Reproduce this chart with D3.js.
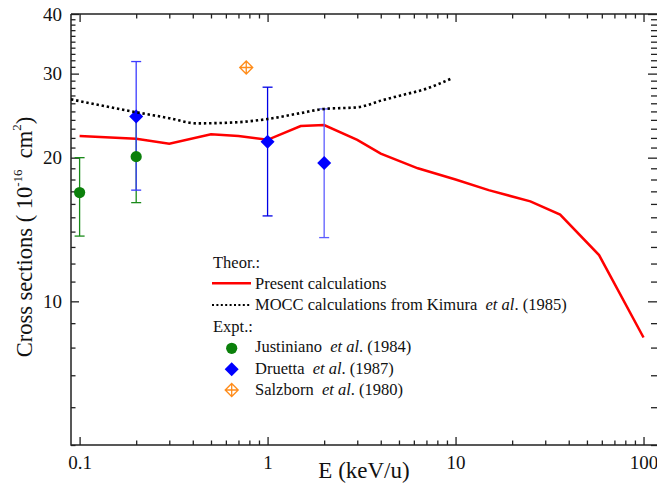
<!DOCTYPE html>
<html>
<head>
<meta charset="utf-8">
<script src="https://cdn.jsdelivr.net/npm/d3@7"></script>
<style>
body { margin: 0; background: #fff; }
text { font-family: "Liberation Serif", "Times New Roman", serif; fill: #111; }
.legend text { white-space: pre; }
</style>
</head>
<body>
<div id="chart"></div>
<script>
const WIDTH = 657;
const HEIGHT = 491;
const LEFT = 71, RIGHT = 658, TOP = 14, BOTTOM = 445;

// Present calculations (red line)
const presentE = [0.1, 0.2, 0.3, 0.5, 0.7, 1.0, 1.5, 2.0, 3.0, 4.0, 6.3, 10, 15, 25, 36, 58, 100];
const presentSigma = [22.2, 21.9, 21.4, 22.4, 22.2, 21.8, 23.3, 23.4, 21.8, 20.4, 19.0, 18.0, 17.1, 16.2, 15.2, 12.5, 8.4];

// MOCC calculations, Kimura et al. (1985) (dotted)
const moccE = [0.09, 0.2, 0.3, 0.42, 0.66, 1.0, 1.5, 2.0, 3.0, 4.1, 5.1, 7.0, 9.5];
const moccSigma = [26.5, 24.9, 24.2, 23.6, 23.7, 24.1, 24.8, 25.3, 25.5, 26.4, 27.0, 27.9, 29.3];

// Justiniano et al. (1984)
const justE = [0.1, 0.2];
const justSigma = [16.9, 20.1];
const justLow = [13.7, 16.1];
const justHigh = [20.0, 24.4];

// Druetta et al. (1987)
const druE = [0.2, 1.0, 2.0];
const druSigma = [24.4, 21.6, 19.5];
const druLow = [17.1, 15.1, 13.6];
const druHigh = [31.8, 28.1, 25.3];

// Salzborn et al. (1980)
const salzE = [0.77];
const salzSigma = [30.9];

const xMajor = [0.1, 1, 10, 100];
const yMajor = [10, 20, 30, 40];

var svg = d3.select("#chart")
    .append("svg")
    .attr("width", WIDTH)
    .attr("height", HEIGHT);

var x_scale = d3.scaleLog().domain([0.09, 119.4]).range([LEFT, RIGHT]);
var y_scale = d3.scaleLog().domain([5, 40]).range([BOTTOM, TOP]);

// minor tick values
var xMinor = [];
[0.01, 0.1, 1, 10].forEach(function(dec) {
    for (var k = 2; k <= 9; k++) {
        var v = dec * k;
        if (v > 0.09 && v < 119) xMinor.push(v);
    }
});
var yMinor = d3.range(5, 41).filter(function(v) { return yMajor.indexOf(v) < 0; });

svg.append("defs").append("clipPath")
    .attr("id", "plot-clip")
    .append("rect")
    .attr("x", LEFT).attr("y", TOP)
    .attr("width", RIGHT - LEFT).attr("height", BOTTOM - TOP);

function styleAxis(g) {
    g.select(".domain").remove();
    g.selectAll("line").attr("stroke", "#222").attr("stroke-width", 1.3);
    g.selectAll("text").attr("font-size", 19).attr("fill", "#111")
        .attr("font-family", "Liberation Serif, Times New Roman, serif");
}

// bottom axis
svg.append("g")
    .attr("transform", "translate(0," + BOTTOM + ")")
    .call(d3.axisBottom(x_scale).tickValues(xMajor).tickSize(-8).tickPadding(10.5)
        .tickFormat(d3.format("~g")))
    .call(styleAxis);
svg.append("g")
    .attr("transform", "translate(0," + BOTTOM + ")")
    .call(d3.axisBottom(x_scale).tickValues(xMinor).tickSize(-4.5).tickFormat(""))
    .call(styleAxis);

// top axis
svg.append("g")
    .attr("transform", "translate(0," + TOP + ")")
    .call(d3.axisTop(x_scale).tickValues(xMajor).tickSize(-8).tickFormat(""))
    .call(styleAxis);
svg.append("g")
    .attr("transform", "translate(0," + TOP + ")")
    .call(d3.axisTop(x_scale).tickValues(xMinor).tickSize(-4.5).tickFormat(""))
    .call(styleAxis);

// left axis
svg.append("g")
    .attr("transform", "translate(" + LEFT + ",0)")
    .call(d3.axisLeft(y_scale).tickValues(yMajor).tickSize(-8).tickPadding(9)
        .tickFormat(d3.format("d")))
    .call(styleAxis);
svg.append("g")
    .attr("transform", "translate(" + LEFT + ",0)")
    .call(d3.axisLeft(y_scale).tickValues(yMinor).tickSize(-4.5).tickFormat(""))
    .call(styleAxis);

// right axis
svg.append("g")
    .attr("transform", "translate(" + RIGHT + ",0)")
    .call(d3.axisRight(y_scale).tickValues(yMajor).tickSize(-10).tickFormat(""))
    .call(styleAxis);
svg.append("g")
    .attr("transform", "translate(" + RIGHT + ",0)")
    .call(d3.axisRight(y_scale).tickValues(yMinor).tickSize(-7).tickFormat(""))
    .call(styleAxis);

// frame
svg.append("path")
    .attr("d", "M" + LEFT + "," + TOP + "V" + BOTTOM + "H" + RIGHT + "M" + LEFT + "," + TOP + "H" + RIGHT)
    .attr("fill", "none")
    .attr("stroke", "#222")
    .attr("stroke-width", 1.5);

var plot = svg.append("g").attr("clip-path", "url(#plot-clip)");

var line = d3.line()
    .x(function(d) { return x_scale(d[0]); })
    .y(function(d) { return y_scale(d[1]); });

// present calculations
plot.append("path")
    .datum(d3.zip(presentE, presentSigma))
    .attr("d", line)
    .attr("fill", "none")
    .attr("stroke", "#ff0000")
    .attr("stroke-width", 2.5);

function diamondPath(r) {
    return "M0," + (-r) + "L" + r + ",0L0," + r + "L" + (-r) + ",0Z";
}
function crossDiamondPath(r) {
    return diamondPath(r) + "M" + (-r) + ",0H" + r + "M0," + (-r) + "V" + r;
}

function errorBars(E, low, high, colors) {
    var data = E.map(function(e, i) { return { e: e, lo: low[i], hi: high[i], c: colors[i] }; });
    var g = plot.append("g");
    var bars = g.selectAll("g").data(data).enter().append("g");
    bars.append("line")
        .attr("x1", (d) => x_scale(d.e)).attr("x2", (d) => x_scale(d.e))
        .attr("y1", (d) => y_scale(d.lo)).attr("y2", (d) => y_scale(d.hi));
    bars.append("line")
        .attr("x1", (d) => x_scale(d.e) - 5).attr("x2", (d) => x_scale(d.e) + 5)
        .attr("y1", (d) => y_scale(d.lo)).attr("y2", (d) => y_scale(d.lo));
    bars.append("line")
        .attr("x1", (d) => x_scale(d.e) - 5).attr("x2", (d) => x_scale(d.e) + 5)
        .attr("y1", (d) => y_scale(d.hi)).attr("y2", (d) => y_scale(d.hi));
    bars.selectAll("line").attr("stroke", (d) => d.c).attr("stroke-width", 1.3);
}

errorBars(justE, justLow, justHigh, ["#1a8a1a", "#1a8a1a"]);
errorBars(druE, druLow, druHigh, ["#3b3bff", "#0000e6", "#5c5cff"]);

// Justiniano markers
plot.selectAll(".just")
    .data(d3.zip(justE, justSigma))
    .enter().append("circle")
    .attr("class", "just")
    .attr("cx", (d) => x_scale(d[0]))
    .attr("cy", (d) => y_scale(d[1]))
    .attr("r", 5.6)
    .attr("fill", "#0b800b");

// Druetta markers
plot.selectAll(".dru")
    .data(d3.zip(druE, druSigma))
    .enter().append("path")
    .attr("class", "dru")
    .attr("transform", (d) => "translate(" + x_scale(d[0]) + "," + y_scale(d[1]) + ")")
    .attr("d", diamondPath(7))
    .attr("fill", "#0000ff");

// Salzborn markers
plot.selectAll(".salz")
    .data(d3.zip(salzE, salzSigma))
    .enter().append("path")
    .attr("class", "salz")
    .attr("transform", (d) => "translate(" + x_scale(d[0]) + "," + y_scale(d[1]) + ")")
    .attr("d", crossDiamondPath(6.5))
    .attr("fill", "none")
    .attr("stroke", "#ff8c1a")
    .attr("stroke-width", 1.3);

// MOCC dotted line
plot.append("path")
    .datum(d3.zip(moccE, moccSigma))
    .attr("d", line.curve(d3.curveMonotoneX))
    .attr("fill", "none")
    .attr("stroke", "#000")
    .attr("stroke-width", 2.6)
    .attr("stroke-dasharray", "2.4,2.8");

// axis titles
svg.append("text")
    .attr("x", 364)
    .attr("y", 478)
    .attr("text-anchor", "middle")
    .attr("font-size", 23)
    .text("E (keV/u)");

var ylab = svg.append("text")
    .attr("transform", "translate(32,237) rotate(-90)")
    .attr("text-anchor", "middle")
    .attr("font-size", 22.5)
    .style("white-space", "pre");
ylab.append("tspan").text("Cross sections ( 10");
ylab.append("tspan").attr("font-size", 13).attr("dy", -10).text("-16");
ylab.append("tspan").attr("dy", 10).text("  cm");
ylab.append("tspan").attr("font-size", 13).attr("dy", -11).text("2");
ylab.append("tspan").attr("dy", 11).text(")");

// legend
var legend = svg.append("g").attr("class", "legend");
var LFONT = 16.5;

function legendText(y, name, year) {
    var t = legend.append("text").attr("x", 255).attr("y", y).attr("font-size", LFONT);
    t.append("tspan").text(name + "  ");
    t.append("tspan").attr("font-style", "italic").text("et al");
    t.append("tspan").text(". " + year);
    return t;
}

legend.append("text").attr("x", 213).attr("y", 268).attr("font-size", LFONT).text("Theor.:");
legend.append("line")
    .attr("x1", 212).attr("x2", 251).attr("y1", 283.3).attr("y2", 283.3)
    .attr("stroke", "#ff0000").attr("stroke-width", 2.5);
legend.append("text").attr("x", 255).attr("y", 288.5).attr("font-size", LFONT).text("Present calculations");

legend.append("line")
    .attr("x1", 212).attr("x2", 251).attr("y1", 305).attr("y2", 305)
    .attr("stroke", "#000").attr("stroke-width", 2.2).attr("stroke-dasharray", "2,2.4");
var mt = legend.append("text").attr("x", 255).attr("y", 310).attr("font-size", LFONT);
mt.append("tspan").text("MOCC calculations from Kimura  ");
mt.append("tspan").attr("font-style", "italic").text("et al");
mt.append("tspan").text(". (1985)");

legend.append("text").attr("x", 213).attr("y", 332).attr("font-size", LFONT).text("Expt.:");

legend.append("circle").attr("cx", 231.7).attr("cy", 348.3).attr("r", 5.6).attr("fill", "#0b800b");
legendText(352, "Justiniano", "(1984)");

legend.append("path").attr("transform", "translate(231.7,369.3)").attr("d", diamondPath(7)).attr("fill", "#0000ff");
legendText(373.5, "Druetta", "(1987)");

legend.append("path").attr("transform", "translate(231.7,390)").attr("d", crossDiamondPath(6.5))
    .attr("fill", "none").attr("stroke", "#ff8c1a").attr("stroke-width", 1.3);
legendText(395, "Salzborn", "(1980)");
</script>
</body>
</html>
